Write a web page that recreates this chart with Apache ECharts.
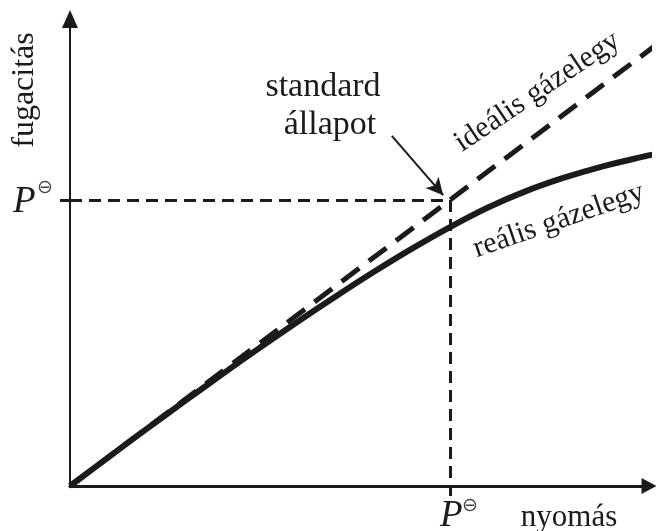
<!DOCTYPE html>
<html>
<head>
<meta charset="utf-8">
<script src="https://cdn.jsdelivr.net/npm/echarts@6/dist/echarts.min.js"></script>
<style>
  html, body { margin: 0; padding: 0; background: #fff; }
  #chart { width: 656px; height: 531px; }
</style>
</head>
<body>
<div id="chart"></div>
<script>
// Pressure axis in units of the standard pressure P° (P° = 1)
const pressure     = [0, 0.1, 0.2, 0.3, 0.4, 0.5, 0.6, 0.7, 0.8, 0.9, 1.0, 1.1, 1.2, 1.3, 1.4, 1.5, 1.542];
const realFugacity = [0, 0.0995, 0.198, 0.295, 0.3905, 0.484, 0.575, 0.6635, 0.749, 0.830, 0.9055,
                      0.974, 1.031, 1.078, 1.117, 1.149, 1.161];
const idealPressure = [0, 1.542];
const idealFugacity = [0, 1.542];
const standardP = 1;

const ink = '#1c1a1b';
const serif = 'Liberation Serif, Times New Roman, serif';

const realData = pressure.map((p, i) => [p, realFugacity[i]]);
const idealData = idealPressure.map((p, i) => [p, idealFugacity[i]]);

// annotation arrow pointing at the standard state
const arrowStart = [0.847, 1.224];
const arrowEnd = [0.982, 1.017];

const chart = echarts.init(document.getElementById('chart'), null, { renderer: 'canvas' });

const textStyle = (extra) => Object.assign({ fill: ink, font: '31px ' + serif }, extra);
const refDash = { type: [12, 7], width: 3, color: ink };

chart.setOption({
  backgroundColor: '#fff',
  animation: false,
  grid: { left: 70, right: 7, top: 19, bottom: 45 },
  xAxis: {
    type: 'value', min: 0, max: 1.5237,
    axisLine: { show: true, symbol: ['none', 'triangle'], symbolSize: [16, 15],
      lineStyle: { color: ink, width: 3 } },
    axisTick: { show: true, customValues: [standardP], length: 10, inside: false,
      lineStyle: { color: ink, width: 3 } },
    axisLabel: { show: false }, splitLine: { show: false }
  },
  yAxis: {
    type: 'value', min: 0, max: 1.633,
    axisLine: { show: true, symbol: ['none', 'triangle'], symbolSize: [16, 18],
      lineStyle: { color: ink, width: 2 } },
    axisTick: { show: true, customValues: [standardP], length: 10, inside: false,
      lineStyle: { color: ink, width: 3 } },
    axisLabel: { show: false }, splitLine: { show: false }
  },
  series: [
    {
      name: 'ideális gázelegy', type: 'line', data: idealData, clip: false,
      symbol: 'none', lineStyle: { color: ink, width: 5, type: [22, 12] },
      markLine: {
        silent: true, animation: false, label: { show: false }, symbol: 'none',
        data: [
          [{ coord: [0, standardP], lineStyle: refDash }, { coord: [standardP, standardP] }],
          [{ coord: [standardP, standardP], lineStyle: refDash }, { coord: [standardP, 0] }],
          [{ coord: arrowStart, symbol: 'none', lineStyle: { type: 'solid', width: 2, color: ink } },
           { coord: arrowEnd, symbol: 'arrow', symbolSize: [13, 17] }]
        ]
      }
    },
    {
      name: 'reális gázelegy', type: 'line', data: realData, clip: false, smooth: 0.3,
      symbol: 'none', lineStyle: { color: ink, width: 6 }
    }
  ],
  graphic: [
    { type: 'text', x: 41, y: 90, rotation: Math.PI / 2,
      style: textStyle({ text: 'fugacitás', font: '32px ' + serif, align: 'center', verticalAlign: 'bottom' }) },
    { type: 'text', x: 323, y: 104,
      style: textStyle({ text: 'standard', font: '34px ' + serif, align: 'center', verticalAlign: 'bottom' }) },
    { type: 'text', x: 330, y: 142,
      style: textStyle({ text: 'állapot', font: '34px ' + serif, align: 'center', verticalAlign: 'bottom' }) },
    { type: 'text', x: 569, y: 533,
      style: textStyle({ text: 'nyomás', align: 'center', verticalAlign: 'bottom' }) },
    { type: 'text', x: 466, y: 158, rotation: 34 * Math.PI / 180,
      style: textStyle({ text: 'ideális gázelegy', font: '30px ' + serif, align: 'left', verticalAlign: 'bottom' }) },
    { type: 'text', x: 479, y: 264, rotation: 19 * Math.PI / 180,
      style: textStyle({ text: 'reális gázelegy', font: '30px ' + serif, align: 'left', verticalAlign: 'bottom' }) },
    // P° on the fugacity axis
    { type: 'text', x: 13, y: 221,
      style: textStyle({ text: 'P', font: 'italic 37px ' + serif, align: 'left', verticalAlign: 'bottom' }) },
    { type: 'text', x: 45, y: 188,
      style: textStyle({ text: '⊖', font: '19px DejaVu Sans', fill: '#444', align: 'center', verticalAlign: 'middle' }) },
    // P° on the pressure axis
    { type: 'text', x: 440, y: 535,
      style: textStyle({ text: 'P', font: 'italic 37px ' + serif, align: 'left', verticalAlign: 'bottom' }) },
    { type: 'text', x: 470, y: 506,
      style: textStyle({ text: '⊖', font: '19px DejaVu Sans', fill: '#444', align: 'center', verticalAlign: 'middle' }) }
  ]
});
</script>
</body>
</html>
